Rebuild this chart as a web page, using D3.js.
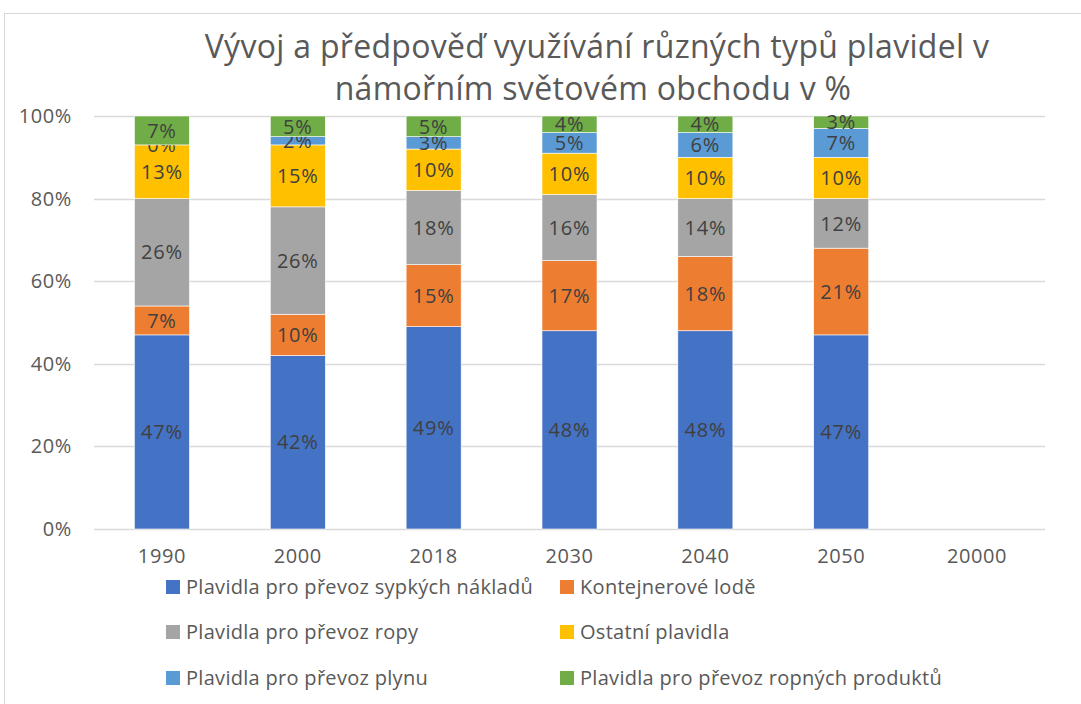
<!DOCTYPE html>
<meta charset="utf-8">
<script src="https://d3js.org/d3.v7.min.js"></script>
<style>
  body { margin: 0; background: #fff; }
  svg text { font-family: "Open Sans", "Noto Sans", sans-serif; }
</style>
<div id="my_dataviz"></div>
<script>

// data (percent)
var years = ["1990", "2000", "2018", "2030", "2040", "2050", "20000"];
var seriesNames = ["Plavidla pro převoz sypkých nákladů", "Kontejnerové lodě",
                   "Plavidla pro převoz ropy", "Ostatní plavidla",
                   "Plavidla pro převoz plynu", "Plavidla pro převoz ropných produktů"];
var bulk      = [47, 42, 49, 48, 48, 47, null];
var container = [7, 10, 15, 17, 18, 21, null];
var oil       = [26, 26, 18, 16, 14, 12, null];
var other     = [13, 15, 10, 10, 10, 10, null];
var gas       = [0, 2, 3, 5, 6, 7, null];
var products  = [7, 5, 5, 4, 4, 3, null];
var yTicks = [0, 0.2, 0.4, 0.6, 0.8, 1];
var colors = ["#4472C4", "#ED7D31", "#A5A5A5", "#FFC000", "#5B9BD5", "#70AD47"];

var W = 1081, H = 704;
var margin = {top: 116, left: 94, right: 36, bottom: 175};
var width = W - margin.left - margin.right,
    height = H - margin.top - margin.bottom;

var svg = d3.select("#my_dataviz").append("svg")
    .attr("width", W).attr("height", H);

// chart border
svg.append("rect")
    .attr("x", 4.5).attr("y", 13.5)
    .attr("width", W + 20).attr("height", H + 20)
    .attr("fill", "none").attr("stroke", "#d9d9d9");

// title
var title = svg.append("text")
    .attr("x", 597).attr("text-anchor", "middle")
    .style("font-size", "32px").style("letter-spacing", "0.3px").attr("fill", "#595959");
title.append("tspan").attr("x", 597).attr("y", 58).text("Vývoj a předpověď využívání různých typů plavidel v");
title.append("tspan").attr("x", 593).attr("y", 100).text("námořním světovém obchodu v %");

var g = svg.append("g").attr("transform", "translate(" + margin.left + "," + margin.top + ")");

var x = d3.scaleBand().domain(years).range([0, width]).paddingInner(0.595).paddingOuter(0.2975);
var y = d3.scaleLinear().domain([0, 1]).range([height, 0]);

// gridlines
g.selectAll(".grid").data(yTicks).enter().append("line")
    .attr("x1", 0).attr("x2", width)
    .attr("y1", function(d) { return Math.round(y(d)) + 0.5; })
    .attr("y2", function(d) { return Math.round(y(d)) + 0.5; })
    .attr("stroke", "#d9d9d9").attr("stroke-width", 1.3);

// y axis labels
var yAxis = g.append("g")
    .call(d3.axisLeft(y).tickValues(yTicks).tickFormat(d3.format(".0%")).tickSize(0).tickPadding(22));
yAxis.select(".domain").remove();
yAxis.selectAll("text").style("font-size", "20px").style("letter-spacing", "0.6px").attr("fill", "#595959")
    .style("font-family", "'Open Sans', sans-serif");

// x axis labels
var xAxis = g.append("g").attr("transform", "translate(0," + height + ")")
    .call(d3.axisBottom(x).tickSize(0).tickPadding(20));
xAxis.select(".domain").remove();
xAxis.selectAll("text").style("font-size", "20px").style("letter-spacing", "0.6px").attr("fill", "#595959")
    .style("font-family", "'Open Sans', sans-serif");

// stack
var allSeries = [bulk, container, oil, other, gas, products];
var table = years.map(function(yr, i) {
  var row = {year: yr};
  allSeries.forEach(function(s, k) { row["s" + k] = s[i] == null ? 0 : s[i] / 100; });
  row.empty = bulk[i] == null;
  return row;
});
var keys = allSeries.map(function(s, k) { return "s" + k; });
var stacked = d3.stack().keys(keys)(table);

var layers = g.selectAll(".layer").data(stacked).enter().append("g")
    .attr("fill", function(d, k) { return colors[k]; });

layers.selectAll("rect")
  .data(function(d) { return d.filter(function(p) { return !p.data.empty; }); })
  .enter().append("rect")
    .attr("x", function(d) { return x(d.data.year); })
    .attr("y", function(d) { return y(d[1]); })
    .attr("width", x.bandwidth())
    .attr("height", function(d) { return y(d[0]) - y(d[1]); })
    .attr("stroke", "#fff").attr("stroke-width", 0.6);

layers.selectAll("text")
  .data(function(d) { return d.filter(function(p) { return !p.data.empty; }); })
  .enter().append("text")
    .attr("x", function(d) { return x(d.data.year) + x.bandwidth() / 2; })
    .attr("y", function(d) { return (y(d[0]) + y(d[1])) / 2; })
    .attr("dy", "0.36em")
    .attr("text-anchor", "middle")
    .attr("fill", "#404040")
    .style("font-size", "20px").style("letter-spacing", "0.8px")
    .text(function(d) { return Math.round((d[1] - d[0]) * 100) + "%"; });

// legend
var legX = [166, 560], legY = [587, 632, 678];
seriesNames.forEach(function(name, k) {
  var lx = legX[k % 2], ly = legY[Math.floor(k / 2)];
  svg.append("rect").attr("x", lx).attr("y", ly - 7).attr("width", 14).attr("height", 14)
      .attr("fill", colors[k]);
  svg.append("text").attr("x", lx + 20).attr("y", ly).attr("dy", "0.36em")
      .style("font-size", "20px").style("letter-spacing", "0.3px").attr("fill", "#595959").text(name);
});
</script>
